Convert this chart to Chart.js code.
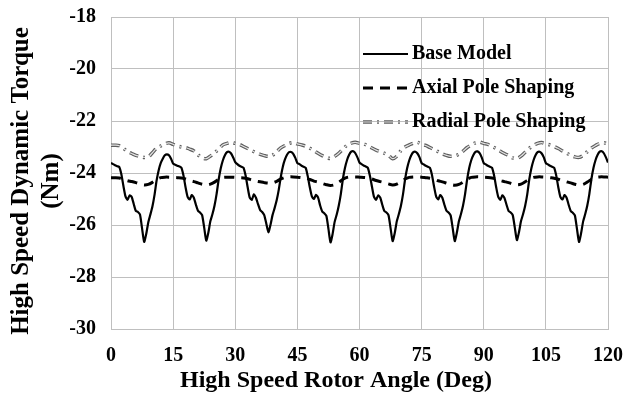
<!DOCTYPE html>
<html>
<head>
<meta charset="utf-8">
<script src="https://cdn.jsdelivr.net/npm/chart.js@4.4.1/dist/chart.umd.min.js"></script>
<style>
  body { margin: 0; background: #fff; }
  #wrap { width: 627px; height: 394px; }
</style>
</head>
<body>
<div id="wrap"><canvas id="torqueChart" width="627" height="394"></canvas></div>
<script>
// rotor angle ticks (deg) and torque ticks (Nm)
const angleTicks = [0, 15, 30, 45, 60, 75, 90, 105, 120];
const torqueTicks = [-30, -28, -26, -24, -22, -20, -18];

// base model torque, every 0.5 deg from 0 to 120
const baseTorque = [
  -23.61,-23.66,-23.70,-23.74,-23.77,-24.05,-24.50,-24.90,-25.03,-24.86,-24.92,-25.20,-25.46,-25.50,-25.60,-26.13,-26.65,-26.35,-25.90,-25.60,-25.29,-24.85,-24.30,-23.90,-23.62,-23.45,-23.32,-23.28,-23.32,-23.45,
  -23.64,-23.68,-23.72,-23.75,-23.80,-24.10,-24.55,-24.92,-25.02,-24.85,-24.95,-25.22,-25.45,-25.52,-25.62,-26.10,-26.60,-26.30,-25.85,-25.58,-25.25,-24.80,-24.25,-23.82,-23.52,-23.32,-23.20,-23.18,-23.25,-23.40,
  -23.58,-23.66,-23.72,-23.76,-23.80,-24.10,-24.55,-24.95,-25.03,-24.82,-24.95,-25.20,-25.42,-25.50,-25.62,-25.95,-26.28,-26.00,-25.62,-25.35,-25.05,-24.65,-24.15,-23.75,-23.48,-23.30,-23.20,-23.19,-23.26,-23.42,
  -23.62,-23.66,-23.72,-23.76,-23.80,-24.12,-24.55,-24.90,-25.00,-24.84,-24.95,-25.25,-25.48,-25.55,-25.65,-26.15,-26.67,-26.35,-25.88,-25.60,-25.25,-24.80,-24.22,-23.80,-23.50,-23.30,-23.18,-23.16,-23.24,-23.40,
  -23.60,-23.66,-23.71,-23.75,-23.80,-24.10,-24.52,-24.92,-25.03,-24.86,-24.94,-25.22,-25.46,-25.52,-25.62,-26.12,-26.62,-26.32,-25.86,-25.58,-25.26,-24.82,-24.25,-23.82,-23.52,-23.32,-23.20,-23.18,-23.25,-23.40,
  -23.62,-23.67,-23.72,-23.76,-23.80,-24.08,-24.52,-24.90,-25.02,-24.85,-24.95,-25.22,-25.45,-25.52,-25.63,-26.12,-26.62,-26.30,-25.86,-25.58,-25.25,-24.80,-24.24,-23.80,-23.50,-23.31,-23.19,-23.17,-23.24,-23.40,
  -23.62,-23.67,-23.72,-23.76,-23.80,-24.10,-24.55,-24.92,-25.03,-24.86,-24.96,-25.22,-25.46,-25.52,-25.62,-26.10,-26.58,-26.28,-25.85,-25.58,-25.26,-24.82,-24.24,-23.82,-23.52,-23.32,-23.20,-23.18,-23.25,-23.40,
  -23.62,-23.67,-23.72,-23.76,-23.80,-24.10,-24.55,-24.92,-25.02,-24.85,-24.95,-25.22,-25.46,-25.53,-25.63,-26.14,-26.65,-26.32,-25.86,-25.58,-25.25,-24.80,-24.23,-23.80,-23.50,-23.30,-23.18,-23.16,-23.24,-23.40,
  -23.60
];

// axial pole shaping torque, every 1 deg from 0 to 120
const axialTorque = [
  -24.18,-24.18,-24.19,-24.24,-24.30,-24.33,-24.37,-24.42,-24.46,-24.44,-24.36,-24.25,-24.18,-24.16,-24.16,
  -24.17,-24.18,-24.19,-24.23,-24.29,-24.33,-24.38,-24.43,-24.46,-24.43,-24.35,-24.24,-24.17,-24.16,-24.16,
  -24.17,-24.18,-24.19,-24.22,-24.27,-24.31,-24.34,-24.37,-24.39,-24.38,-24.32,-24.23,-24.17,-24.15,-24.15,
  -24.16,-24.18,-24.20,-24.25,-24.31,-24.35,-24.40,-24.45,-24.48,-24.45,-24.36,-24.24,-24.17,-24.15,-24.15,
  -24.16,-24.17,-24.19,-24.23,-24.29,-24.33,-24.37,-24.42,-24.46,-24.43,-24.34,-24.23,-24.17,-24.15,-24.15,
  -24.16,-24.18,-24.20,-24.24,-24.30,-24.34,-24.39,-24.44,-24.47,-24.44,-24.35,-24.24,-24.17,-24.15,-24.15,
  -24.16,-24.17,-24.19,-24.23,-24.29,-24.33,-24.37,-24.42,-24.45,-24.43,-24.34,-24.23,-24.17,-24.15,-24.15,
  -24.16,-24.18,-24.20,-24.24,-24.30,-24.34,-24.38,-24.43,-24.46,-24.44,-24.35,-24.24,-24.17,-24.15,-24.15,
  -24.16
];

// radial pole shaping torque, every 1 deg from 0 to 120
const radialTorque = [
  -22.93,-22.93,-22.95,-23.05,-23.18,-23.25,-23.32,-23.36,-23.40,-23.38,-23.22,-23.05,-22.96,-22.88,-22.84,
  -22.90,-22.96,-23.00,-23.02,-23.08,-23.15,-23.30,-23.42,-23.45,-23.35,-23.22,-23.08,-22.92,-22.86,-22.82,
  -22.86,-22.90,-22.98,-23.06,-23.14,-23.22,-23.28,-23.33,-23.36,-23.32,-23.18,-23.03,-22.94,-22.86,-22.83,
  -22.88,-22.92,-22.97,-23.05,-23.14,-23.24,-23.33,-23.40,-23.44,-23.36,-23.24,-23.08,-22.93,-22.85,-22.82,
  -22.86,-22.88,-22.95,-23.04,-23.12,-23.18,-23.24,-23.32,-23.45,-23.36,-23.14,-23.00,-22.92,-22.85,-22.82,
  -22.90,-22.94,-23.02,-23.10,-23.18,-23.26,-23.32,-23.36,-23.34,-23.28,-23.16,-23.02,-22.92,-22.84,-22.81,
  -22.86,-22.90,-22.98,-23.06,-23.16,-23.25,-23.33,-23.42,-23.44,-23.35,-23.20,-23.05,-22.94,-22.86,-22.83,
  -22.88,-22.92,-22.98,-23.06,-23.15,-23.24,-23.32,-23.38,-23.40,-23.32,-23.18,-23.04,-22.94,-22.86,-22.84,
  -22.88
];

const seriesNames = ["Base Model", "Axial Pole Shaping", "Radial Pole Shaping"];
const xTitle = "High Speed Rotor Angle (Deg)";
const yTitle = ["High Speed Dynamic Torque", "(Nm)"];

// pair values with their angle; base is sampled every 0.5 deg, the others every 1 deg
function toPoints(values, step) {
  return values.map(function (v, i) { return { x: i * step, y: v }; });
}

const serif = "'Liberation Serif', 'Times New Roman', serif";
const gridGray = "#bfbfbf";

// legend drawn inside the plot, no box, like the original
const insideLegend = {
  id: "insideLegend",
  afterDatasetsDraw(chart) {
    const ctx = chart.ctx;
    const rowY = [54, 88, 122];
    let row = 0;
    chart.data.datasets.forEach(function (ds) {
      if (ds.legendSkip) return;
      const y = rowY[row++];
      ctx.save();
      ctx.lineCap = "butt";
      ctx.beginPath();
      ctx.moveTo(363, y);
      ctx.lineTo(408, y);
      ctx.setLineDash(ds.borderDash || []);
      ctx.lineWidth = ds.borderWidth;
      ctx.strokeStyle = ds.borderColor;
      ctx.stroke();
      if (ds.innerStroke) {
        ctx.lineWidth = ds.innerStroke.width;
        ctx.strokeStyle = ds.innerStroke.color;
        ctx.stroke();
      }
      ctx.setLineDash([]);
      ctx.fillStyle = "#000";
      ctx.font = "bold 20px " + serif;
      ctx.textBaseline = "middle";
      ctx.fillText(ds.label, 412, y);
      ctx.restore();
    });
  }
};

// axis titles sit a bit off the plot centre in the original, so place them by hand
const axisTitles = {
  id: "axisTitles",
  afterDraw(chart) {
    const ctx = chart.ctx;
    ctx.save();
    ctx.fillStyle = "#000";
    ctx.textAlign = "center";
    ctx.textBaseline = "middle";
    ctx.font = "bold 24px " + serif;
    ctx.fillText(xTitle, 336, 381);
    ctx.font = "bold 25px " + serif;
    ctx.translate(0, 181);
    ctx.rotate(-Math.PI / 2);
    ctx.fillText(yTitle[0], 0, 22);
    ctx.fillText(yTitle[1], 0, 52);
    ctx.restore();
  }
};

const radialDash = [9, 5, 2, 5];

// keep the plot box fixed: no extra room for overhanging tick labels
function noLabelPadding(scale) {
  scale.paddingTop = 0;
  scale.paddingBottom = 0;
  scale.paddingLeft = 0;
  scale.paddingRight = 0;
}

const config = {
  type: "line",
  data: {
    datasets: [
      {
        label: seriesNames[0],
        data: toPoints(baseTorque, 0.5),
        borderColor: "#000",
        borderWidth: 2.2,
        pointRadius: 0,
        tension: 0.2,
        order: 0,
      },
      {
        label: seriesNames[1],
        data: toPoints(axialTorque, 1),
        borderColor: "#000",
        borderWidth: 3,
        borderDash: [10, 7],
        pointRadius: 0,
        tension: 0.3,
        order: 1,
      },
      {
        label: seriesNames[2] + " inner",
        legendSkip: true,
        data: toPoints(radialTorque, 1),
        borderColor: "#e2e2e2",
        borderWidth: 1.2,
        borderDash: radialDash,
        pointRadius: 0,
        tension: 0.3,
        order: 2,
      },
      {
        label: seriesNames[2],
        data: toPoints(radialTorque, 1),
        borderColor: "#5e5e5e",
        borderWidth: 3.5,
        borderDash: radialDash,
        innerStroke: { color: "#e2e2e2", width: 1.2 },
        pointRadius: 0,
        tension: 0.3,
        order: 3,
      },
    ],
  },
  options: {
    responsive: false,
    animation: false,
    events: [],
    layout: { padding: { top: 17, right: 19, left: 0, bottom: 0 } },
    plugins: {
      legend: { display: false },
      tooltip: { enabled: false },
    },
    scales: {
      x: {
        type: "linear",
        min: angleTicks[0],
        max: angleTicks[angleTicks.length - 1],
        afterBuildTicks: function (scale) {
          scale.ticks = angleTicks.map(function (v) { return { value: v }; });
        },
        afterFit: function (scale) {
          scale.height = 65;
          noLabelPadding(scale);
        },
        grid: { color: gridGray, lineWidth: 1, drawTicks: false },
        border: { color: gridGray },
        ticks: {
          color: "#000",
          padding: 15,
          maxRotation: 0,
          font: { family: serif, size: 20, weight: "bold" },
        },
      },
      y: {
        min: torqueTicks[0],
        max: torqueTicks[torqueTicks.length - 1],
        afterBuildTicks: function (scale) {
          scale.ticks = torqueTicks.map(function (v) { return { value: v }; });
        },
        afterFit: function (scale) {
          scale.width = 111;
          noLabelPadding(scale);
        },
        grid: { color: gridGray, lineWidth: 1, drawTicks: false },
        border: { color: gridGray },
        ticks: {
          color: "#000",
          padding: 15,
          font: { family: serif, size: 20, weight: "bold" },
        },
      },
    },
  },
  plugins: [insideLegend, axisTitles],
};

const torqueChart = new Chart(document.getElementById("torqueChart"), config);
</script>
</body>
</html>
